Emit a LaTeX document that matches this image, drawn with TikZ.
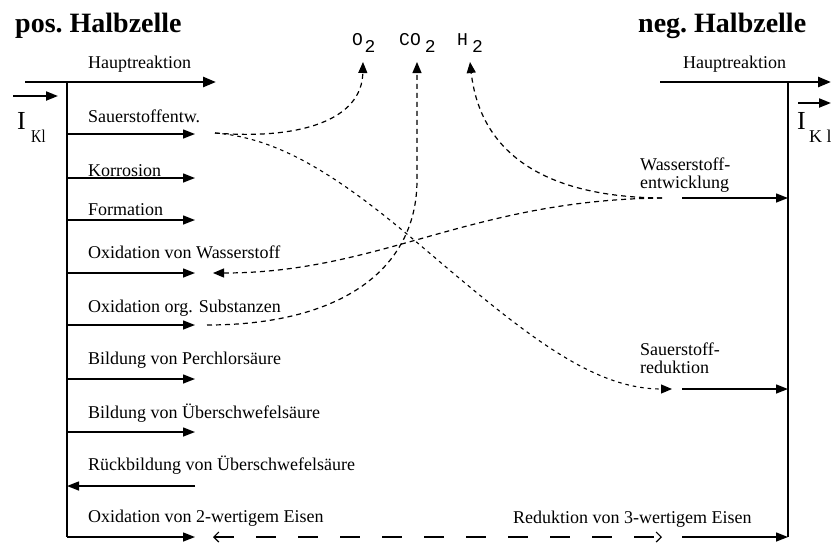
\documentclass[tikz,border=0pt]{standalone}
\usepackage{fontspec}
\setmainfont{Liberation Serif}
\newfontfamily\gasfont{Liberation Mono}
\usetikzlibrary{arrows.meta}
\begin{document}
\begin{tikzpicture}[x=1pt,y=-1pt,
  lab/.style={anchor=base west, inner sep=0pt, font=\fontsize{18}{18}\selectfont},
  twolab/.style={anchor=north west, inner sep=0pt, align=left, font=\fontsize{18}{18}\selectfont},
  titletext/.style={anchor=base west, inner sep=0pt, font=\fontsize{28}{30}\selectfont\bfseries},
  gaslab/.style={anchor=base west, inner sep=0pt, font=\fontsize{18}{18}\gasfont},
  rail/.style={line width=1.4pt},
  branch/.style={line width=1.4pt, -{Triangle[length=12pt,width=9pt]}},
  haupt/.style={line width=2.6pt, -{Triangle[length=13pt,width=10pt]}},
  vec/.style={line width=2pt, -{Triangle[length=12pt,width=9pt]}},
  gasflow/.style={line width=1.2pt, dash pattern=on 5pt off 4pt, -{Triangle[length=11pt,width=9pt]}},
  fineflow/.style={line width=1.1pt, dash pattern=on 3.5pt off 4pt, -{Triangle[length=11pt,width=9pt]}},
  eisen/.style={line width=1.2pt, dash pattern=on 20pt off 22pt, {Straight Barb[length=5pt,width=10pt]}-{Straight Barb[length=5pt,width=10pt]}}
]
\useasboundingbox (0,0) rectangle (831,542);

% titles
\node[titletext] (posT) at (15,32) {pos.\ Halbzelle};
\node[titletext] (negT) at (638,32) {neg.\ Halbzelle};

% ---------- left half cell ----------
\coordinate (Ltop) at (67,82);
\coordinate (Lbot) at (67,537);
\draw[rail] (Ltop) -- (Lbot);
\coordinate (hL0) at (25,82);
\coordinate (hL1) at (216,82);
\draw[haupt] (hL0) -- (hL1);
\node[lab] (hLt) at (88,68) {Hauptreaktion};

% current vector left
\coordinate (iL0) at (13,96);
\coordinate (iL1) at (58,96);
\draw[vec] (iL0) -- (iL1);
\node[anchor=base west, inner sep=0pt, font=\fontsize{26}{26}\selectfont] (IL) at (17,129) {I};
\node[anchor=base west, inner sep=0pt, font=\fontsize{18}{18}\selectfont] (KL) at (31,142) {\scalebox{0.8}[1]{Kl}};

% branches
\foreach \n/\y in {1/134,2/178,3/220,4/273,5/325,6/379,7/432,8/486,9/537}{
  \coordinate (bs\n) at (67,\y);
  \coordinate (be\n) at (195,\y);
}
\draw[branch] (bs1) -- (be1);
\draw[branch] (bs2) -- (be2);
\draw[branch] (bs3) -- (be3);
\draw[branch] (bs4) -- (be4);
\draw[branch] (bs5) -- (be5);
\draw[branch] (bs6) -- (be6);
\draw[branch] (bs7) -- (be7);
\draw[branch] (be8) -- (bs8);
\draw[branch] (bs9) -- (be9);

\node[lab] (l1) at (88,122) {Sauerstoffentw.};
\node[lab] (l2) at (88,176) {Korrosion};
\node[lab] (l3) at (88,215) {Formation};
\node[lab] (l4) at (88,258) {Oxidation von Wasserstoff};
\node[lab] (l5) at (88,312) {Oxidation org. Substanzen};
\node[lab] (l6) at (88,364) {Bildung von Perchlorsäure};
\node[lab] (l7) at (88,418) {Bildung von Überschwefelsäure};
\node[lab] (l8) at (88,470) {Rückbildung von Überschwefelsäure};
\node[lab] (l9) at (88,522) {Oxidation von 2-wertigem Eisen};

% ---------- right half cell ----------
\coordinate (Rtop) at (788,82);
\coordinate (Rbot) at (788,537);
\draw[rail] (Rtop) -- (Rbot);
\coordinate (hR0) at (660,82);
\coordinate (hR1) at (831,82);
\draw[haupt] (hR0) -- (hR1);
\node[lab] (hRt) at (683,68) {Hauptreaktion};

\coordinate (iR0) at (798,103);
\coordinate (iR1) at (831,103);
\draw[vec] (iR0) -- (iR1);
\node[anchor=base west, inner sep=0pt, font=\fontsize{26}{26}\selectfont] (IR) at (797,129) {I};
\node[anchor=base west, inner sep=0pt, font=\fontsize{18}{18}\selectfont] (KR) at (809,142) {K l};

\foreach \n/\y in {1/198,2/389,3/537}{
  \coordinate (rs\n) at (682,\y);
  \coordinate (re\n) at (788,\y);
}
\draw[branch] (rs1) -- (re1);
\draw[branch] (rs2) -- (re2);
\draw[branch] (rs3) -- (re3);

\node[twolab] (r1) at (640,158) {Wasserstoff-\\entwicklung};
\node[twolab] (r2) at (640,343) {Sauerstoff-\\reduktion};
\node[lab] (r3) at (513,523) {Reduktion von 3-wertigem Eisen};

% ---------- gases ----------
\node[gaslab] (gO2) at (352,45) {O\hspace{1.5pt}\raisebox{-7pt}{2}};
\node[gaslab] (gCO2) at (399,45) {CO\hspace{4pt}\raisebox{-7pt}{2}};
\node[gaslab] (gH2) at (457,45) {H\hspace{4pt}\raisebox{-7pt}{2}};
\coordinate (tO2) at (363,62);
\coordinate (tCO2) at (417,62);
\coordinate (tH2) at (470,62);

% ---------- dashed flows ----------
\coordinate (sE) at (215,133);
\coordinate (oS) at (207,325);
\coordinate (wE) at (662,198);
\coordinate (tOW) at (213,273);
\coordinate (tSR) at (672,389);
\coordinate (tEL) at (213,537);
\coordinate (tER) at (662,537);

\draw[gasflow] (sE) .. controls (300,140) and (362,120) .. (tO2);
\draw[fineflow] (sE) .. controls (280,138) and (340,177) .. (420,245)
                     .. controls (520,330) and (590,389) .. (tSR);
\draw[gasflow] (oS) .. controls (340,325) and (417,270) .. (417,180) -- (tCO2);
\draw[gasflow] (wE) .. controls (540,197) and (480,150) .. (tH2);
\draw[gasflow] (wE) .. controls (470,200) and (380,273) .. (tOW);
\draw[eisen] (tEL) -- (tER);

\end{tikzpicture}
\end{document}
